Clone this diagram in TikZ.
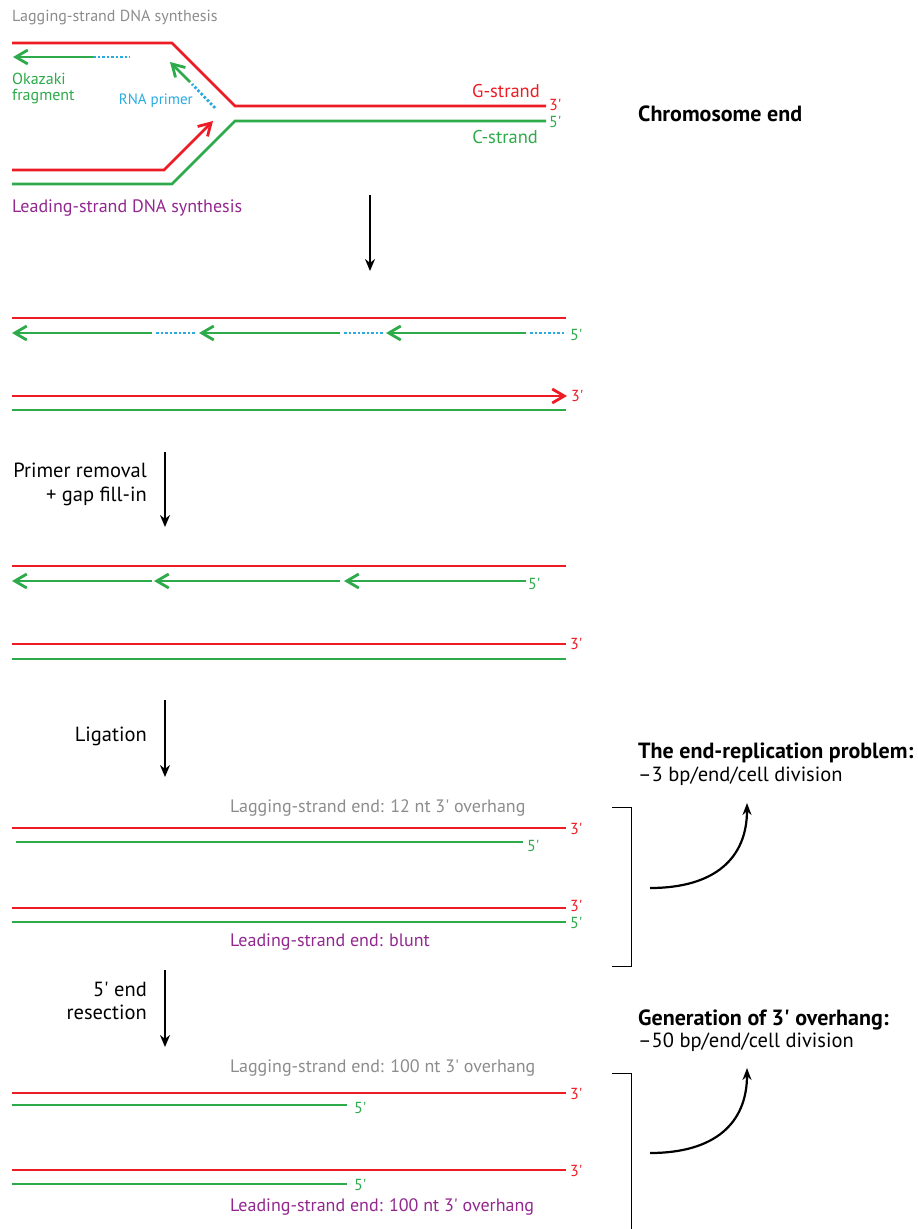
\documentclass[tikz,border=0pt]{standalone}
\usepackage{fontspec}
\setmainfont{PT Sans}[Ligatures=TeXOff]
\usetikzlibrary{positioning}
\usetikzlibrary{arrows.meta}
\definecolor{gred}{HTML}{ED1C24}
\definecolor{cgreen}{HTML}{2DAA4A}
\definecolor{rnablue}{HTML}{29ABE2}
\definecolor{leadpurple}{HTML}{92278F}
\definecolor{laggray}{HTML}{8C8C8C}
\tikzset{strand/.style={line width=2.8pt},
txt/.style={inner sep=0pt, font=\fontsize{18}{21}\selectfont},
big/.style={inner sep=0pt, anchor=west, font=\fontsize{20.5}{24}\selectfont},
tag/.style={inner sep=0pt, anchor=west, font=\fontsize{16}{18}\selectfont}}

\begin{document}
\begin{tikzpicture}[x=1pt, y=-1pt,
	gs/.style={strand, gred}, cs/.style={strand, cgreen},
	rna/.style={strand, rnablue, dash pattern=on 2.5pt off 2pt},
	okz/.style={cs, -{Straight Barb[length=12pt,width=14pt]}},
	lead/.style={gs, -{Straight Barb[length=12pt,width=14pt]}},
	stepdown/.style={line width=1.7pt, -{Stealth[length=12pt,width=10pt]}},
	curvarr/.style={line width=2.2pt, -{Stealth[length=12pt,width=9pt]}},
	brk/.style={line width=1pt}]
	\useasboundingbox (0,0) rectangle (918,1229);
	% fork
	\node[txt, laggray, anchor=west, font=\fontsize{16}{19}\selectfont] (lagtitle) at (12,18) {Lagging-strand DNA synthesis};
	\draw[gs] (12,43) -- (172,43) -- (235,106) -- (546,106);
	\draw[cs] (12,184) -- (172,184) -- (235,121) -- (546,121);
	\draw[lead] (12,170) -- (164,170) -- (213,121);
	\draw[rna] (93,57) -- (130,57);
	\draw[okz] (93,57) -- (13,57);
	\draw[rna] (215,108) -- (192,84);
	\draw[okz] (190,82) -- (170,62);
	\node[txt, cgreen, anchor=north west, align=left, font=\fontsize{16}{15.5}\selectfont] (okazaki) at (12,73) {Okazaki\\fragment};
	\node[txt, rnablue, anchor=base east, font=\fontsize{15}{17}\selectfont] (primer) at (193,104) {RNA primer};
	\node[txt, gred, anchor=east, font=\fontsize{18.5}{21}\selectfont] (gstrand) at (540,91) {G-strand};
	\node[txt, cgreen, anchor=east, font=\fontsize{18.5}{21}\selectfont] (cstrand) at (538,137) {C-strand};
	\node[tag, gred] (g3a) at (549,105) {3'};
	\node[tag, cgreen] (c5a) at (549,122) {5'};
	\node[txt, leadpurple, anchor=west] (leadtitle) at (12,208) {Leading-strand DNA synthesis};
	\node[big, font=\bfseries\fontsize{22}{26}\selectfont] (chrend) at (638,114) {Chromosome end};
	\coordinate (s1a) at (370,195);
	\coordinate (s1b) at (370,271);
	\draw[stepdown] (s1a) -- (s1b);
	% after fork
	\draw[gs] (12,318) -- (566,318);
	\foreach \a/\c in {152/196, 340/383, 526/566}
		\draw[rna] (\a+4,333) -- (\c,333);
	\foreach \a/\b in {152/12, 340/199, 526/386}
		\draw[okz] (\a,333) -- (\b,333);
	\node[tag, cgreen] (c5b) at (570,335) {5'};
	\draw[lead] (12,396) -- (567,396);
	\draw[cs] (12,410) -- (566,410);
	\node[tag, gred] (g3b) at (571,396) {3'};
	\coordinate (s2a) at (165,452);
	\coordinate (s2b) at (165,527);
	\draw[stepdown] (s2a) -- (s2b);
	\node[big, anchor=east, align=right] (primrem) at (147,484) {Primer removal\\+ gap fill-in};
	% gap filled
	\draw[gs] (12,566) -- (566,566);
	\foreach \a/\b in {152/12, 340/154, 526/344}
		\draw[okz] (\a,581) -- (\b,581);
	\node[tag, cgreen] (c5c) at (528,584) {5'};
	\draw[gs] (12,644) -- (566,644);
	\draw[cs] (12,659) -- (566,659);
	\node[tag, gred] (g3c) at (570,644) {3'};
	\coordinate (s3a) at (165,700);
	\coordinate (s3b) at (165,777);
	\draw[stepdown] (s3a) -- (s3b);
	\node[big, anchor=east] (ligation) at (147,736) {Ligation};
	% ligated
	\node[txt, laggray, anchor=west] (lagend1) at (230,808) {Lagging-strand end: 12 nt 3' overhang};
	\draw[gs] (12,828) -- (566,828);
	\draw[cs] (16,842) -- (523,842);
	\node[tag, gred] (g3d) at (570,829) {3'};
	\node[tag, cgreen] (c5d) at (527,846) {5'};
	\draw[gs] (12,908) -- (566,908);
	\draw[cs] (12,922) -- (566,922);
	\node[tag, gred] (g3e) at (570,906) {3'};
	\node[tag, cgreen] (c5e) at (570,923) {5'};
	\node[txt, leadpurple, anchor=west] (leadend1) at (230,942) {Leading-strand end: blunt};
	\draw[brk] (612,807) -- (631,807) -- (631,966) -- (612,966);
	\coordinate (k1a) at (650,888);
	\coordinate (k1b) at (747,803);
	\draw[curvarr] (k1a) .. controls (715,888) and (747,858) .. (k1b);
	\node[big, font=\bfseries\fontsize{22}{26}\selectfont] (endrep) at (638,753) {The end-replication problem:};
	\node[big] (endrepval) at (638,776) {–3 bp/end/cell division};
	\coordinate (s4a) at (165,970);
	\coordinate (s4b) at (165,1047);
	\draw[stepdown] (s4a) -- (s4b);
	\node[big, anchor=east, align=right, font=\fontsize{20.5}{23}\selectfont] (resect) at (147,1001) {5' end\\resection};
	% resected
	\node[txt, laggray, anchor=west] (lagend2) at (230,1068) {Lagging-strand end: 100 nt 3' overhang};
	\draw[gs] (12,1093) -- (566,1093);
	\draw[cs] (12,1105) -- (347,1105);
	\node[tag, gred] (g3f) at (570,1094) {3'};
	\node[tag, cgreen] (c5f) at (354,1108) {5'};
	\draw[gs] (12,1170) -- (566,1170);
	\draw[cs] (12,1184) -- (347,1184);
	\node[tag, gred] (g3g) at (570,1171) {3'};
	\node[tag, cgreen] (c5g) at (354,1185) {5'};
	\node[txt, leadpurple, anchor=west] (leadend2) at (230,1207) {Leading-strand end: 100 nt 3' overhang};
	\draw[brk] (612,1073) -- (631,1073) -- (631,1229);
	\coordinate (k2a) at (650,1153);
	\coordinate (k2b) at (747,1068);
	\draw[curvarr] (k2a) .. controls (715,1153) and (747,1123) .. (k2b);
	\node[big, font=\bfseries\fontsize{22}{26}\selectfont] (genov) at (638,1020) {Generation of 3' overhang:};
	\node[big] (genovval) at (638,1042) {–50 bp/end/cell division};
\end{tikzpicture}
\end{document}
